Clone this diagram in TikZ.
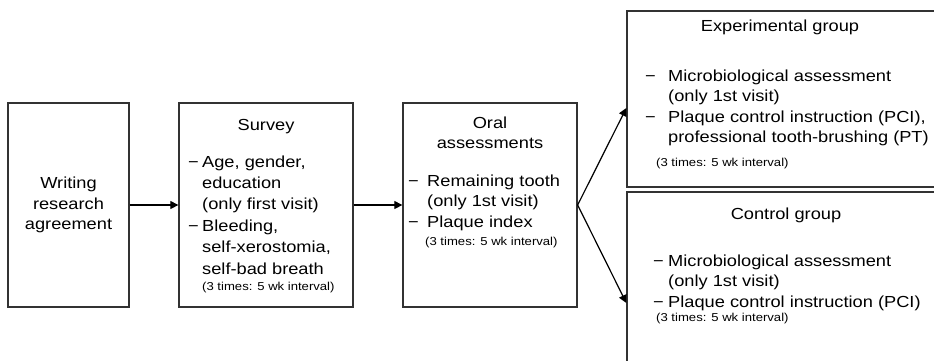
\documentclass[tikz,border=0pt]{standalone}
\usepackage{fontspec}
\setmainfont{Liberation Sans}[FakeStretch=1.14]
\usetikzlibrary{arrows.meta, positioning}
\definecolor{BoxGray}{RGB}{50,50,50}
\newcommand{\itemdash}[1][14pt]{\makebox[#1][l]{\char"2212}}
\newcommand{\itemgap}[1][14pt]{\hspace*{#1}}

\begin{document}
\begin{tikzpicture}[x=1pt, y=-1pt,
	box/.style={draw=BoxGray, line width=1.3pt, inner sep=0pt},
	hd/.style={inner sep=0pt, align=center, font=\fontsize{16}{20}\selectfont},
	lst/.style={inner sep=0pt, align=left, anchor=north west, font=\fontsize{16}{20.5}\selectfont},
	note/.style={inner sep=0pt, anchor=base west, font=\fontsize{11.5}{14}\selectfont},
	arr/.style={line width=1.2pt, -{Triangle[length=8pt, width=8pt]}}]
	\useasboundingbox (0,0) rectangle (934,360);
	\begin{scope}
	\clip (0,0) rectangle (934,360);
	% boxes
	\node[box, minimum width=121pt, minimum height=204pt] (agree) at (68.5,205) {};
	\node[box, minimum width=174pt, minimum height=204pt] (survey) at (266,205) {};
	\node[box, minimum width=174pt, minimum height=204pt] (oral) at (490,205) {};
	\node[box, minimum width=312pt, minimum height=176pt] (expg) at (783,99) {};
	\node[box, minimum width=312pt, minimum height=190pt] (ctlg) at (783,287) {};
	\end{scope}
	% writing research agreement
	\node[hd, font=\fontsize{16}{20.5}\selectfont] (agreetxt) at (68.5,205) {Writing\\research\\agreement};
	% survey
	\node[hd] (surveyhd) at (266,127) {Survey};
	\node[lst, font=\fontsize{16}{21.4}\selectfont] (surveylst) at (188,155.3) {\itemdash Age, gender,\\ \itemgap education\\ \itemgap (only first visit)\\
		\itemdash Bleeding,\\ \itemgap self-xerostomia,\\ \itemgap self-bad breath};
	\node[note] (surveynote) at (202,290) {(3 times: 5 wk interval)};
	% oral assessments
	\node[hd] (oralhd) at (490,133) {Oral\\assessments};
	\node[lst] (orallst) at (408,174.3) {\itemdash[19pt]Remaining tooth\\ \itemgap[19pt](only 1st visit)\\ \itemdash[19pt]Plaque index};
	\node[note] (oralnote) at (425,245) {(3 times: 5 wk interval)};
	% experimental group
	\node[hd] (expghd) at (780,27) {Experimental group};
	\node[lst] (expglst) at (645,69.3) {\itemdash[23pt]Microbiological assessment\\ \itemgap[23pt](only 1st visit)\\
		\itemdash[23pt]Plaque control instruction (PCI),\\ \itemgap[23pt]professional tooth-brushing (PT)};
	\node[note] (expgnote) at (656,166) {(3 times: 5 wk interval)};
	% control group
	\node[hd] (ctlghd) at (786,215) {Control group};
	\node[lst] (ctlglst) at (653,254.3) {\itemdash[15pt]Microbiological assessment\\ \itemgap[15pt](only 1st visit)\\
		\itemdash[15pt]Plaque control instruction (PCI)};
	\node[note] (ctlgnote) at (656,321) {(3 times: 5 wk interval)};
	% arrows
	\draw[arr] (agree.east) -- (survey.west);
	\draw[arr] (survey.east) -- (oral.west);
	\draw[arr] (oral.east) -- ([yshift=-9pt]expg.west);
	\draw[arr] (oral.east) -- ([yshift=-16pt]ctlg.west);
\end{tikzpicture}
\end{document}
